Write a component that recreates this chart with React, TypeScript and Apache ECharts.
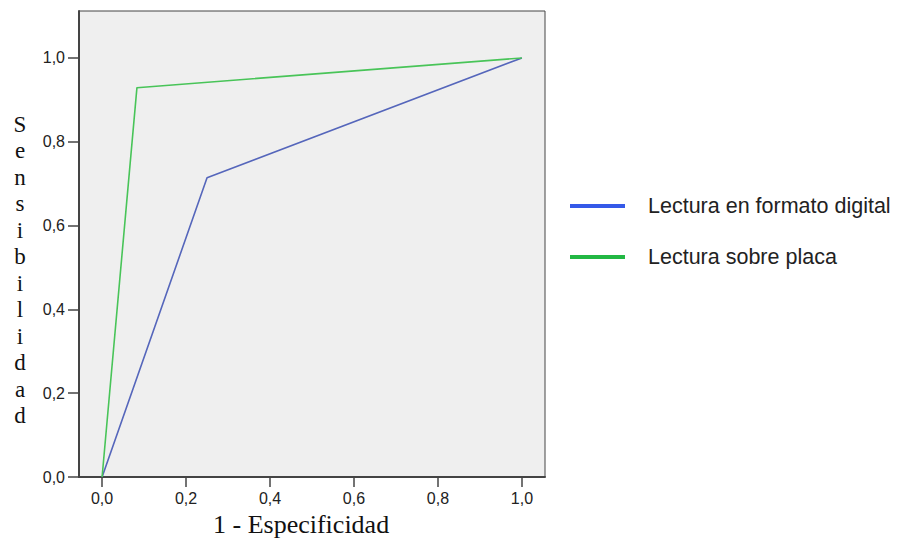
import React, { useEffect, useRef } from "react";
import * as echarts from "echarts";

// ROC curve points: 1 - especificidad (x) vs sensibilidad (y)
const digitalX = [0, 0.25, 1];
const digitalY = [0, 0.714, 1];
const placaX = [0, 0.083, 1];
const placaY = [0, 0.929, 1];

const seriesNames = ["Lectura en formato digital", "Lectura sobre placa"];
const tickValues = [0, 0.2, 0.4, 0.6, 0.8, 1.0];

const fmt = (v: number) => v.toFixed(1).replace(".", ",");

export default function App() {
  const ref = useRef<HTMLDivElement>(null);

  useEffect(() => {
    document.body.style.margin = "0";
    const chart = echarts.init(ref.current!, null, { renderer: "svg" });
    const axisColor = "#444";
    const tickFont = {
      color: "#222",
      fontFamily: "Liberation Sans, Arial, sans-serif",
      fontSize: 16,
    };
    const serif = "'Liberation Serif', 'Times New Roman', serif";
    chart.setOption({
      animation: false,
      backgroundColor: "#ffffff",
      grid: {
        left: 79,
        top: 11,
        width: 466,
        height: 466,
        show: true,
        backgroundColor: "#efefef",
        borderColor: axisColor,
        borderWidth: 1,
      },
      xAxis: {
        type: "value",
        min: -0.055,
        max: 1.055,
        axisLine: { onZero: false, lineStyle: { color: axisColor, width: 2 } },
        axisTick: { show: true, length: 10, customValues: tickValues, lineStyle: { color: axisColor, width: 1.5 } },
        axisLabel: { ...tickFont, customValues: tickValues, formatter: (v: number) => fmt(v), margin: 13 },
        splitLine: { show: false },
      },
      yAxis: {
        type: "value",
        min: 0,
        max: 1.112,
        axisLine: { onZero: false, lineStyle: { color: axisColor, width: 2 } },
        axisTick: { show: true, length: 11, customValues: tickValues, lineStyle: { color: axisColor, width: 1.5 } },
        axisLabel: { ...tickFont, customValues: tickValues, formatter: (v: number) => fmt(v), margin: 14 },
        splitLine: { show: false },
      },
      legend: {
        orient: "vertical",
        left: 565,
        top: 190,
        icon: "rect",
        itemWidth: 55,
        itemHeight: 4,
        itemGap: 29,
        textStyle: {
          fontFamily: "Liberation Sans, Arial, sans-serif",
          fontSize: 21.5,
          color: "#222",
          padding: [0, 0, 0, 18],
        },
        data: [
          { name: seriesNames[0], itemStyle: { color: "#3559e8" } },
          { name: seriesNames[1], itemStyle: { color: "#22b844" } },
        ],
      },
      graphic: [
        {
          type: "text",
          x: 20,
          y: 111,
          style: {
            text: "S\ne\nn\ns\ni\nb\ni\nl\ni\nd\na\nd",
            font: "23px " + serif,
            fill: "#111",
            lineHeight: 26.5,
            align: "center",
          },
        },
        {
          type: "text",
          left: 213,
          top: 511,
          style: {
            text: "1 - Especificidad",
            font: "26px " + serif,
            fill: "#111",
          },
        },
      ],
      series: [
        {
          name: seriesNames[0],
          type: "line",
          symbol: "none",
          lineStyle: { color: "#5566bb", width: 1.6 },
          itemStyle: { color: "#5566bb" },
          data: digitalX.map((x, i) => [x, digitalY[i]]),
        },
        {
          name: seriesNames[1],
          type: "line",
          symbol: "none",
          lineStyle: { color: "#48c458", width: 1.6 },
          itemStyle: { color: "#48c458" },
          data: placaX.map((x, i) => [x, placaY[i]]),
        },
      ],
    });
    return () => chart.dispose();
  }, []);

  return <div ref={ref} style={{ width: 897, height: 542 }} />;
}
